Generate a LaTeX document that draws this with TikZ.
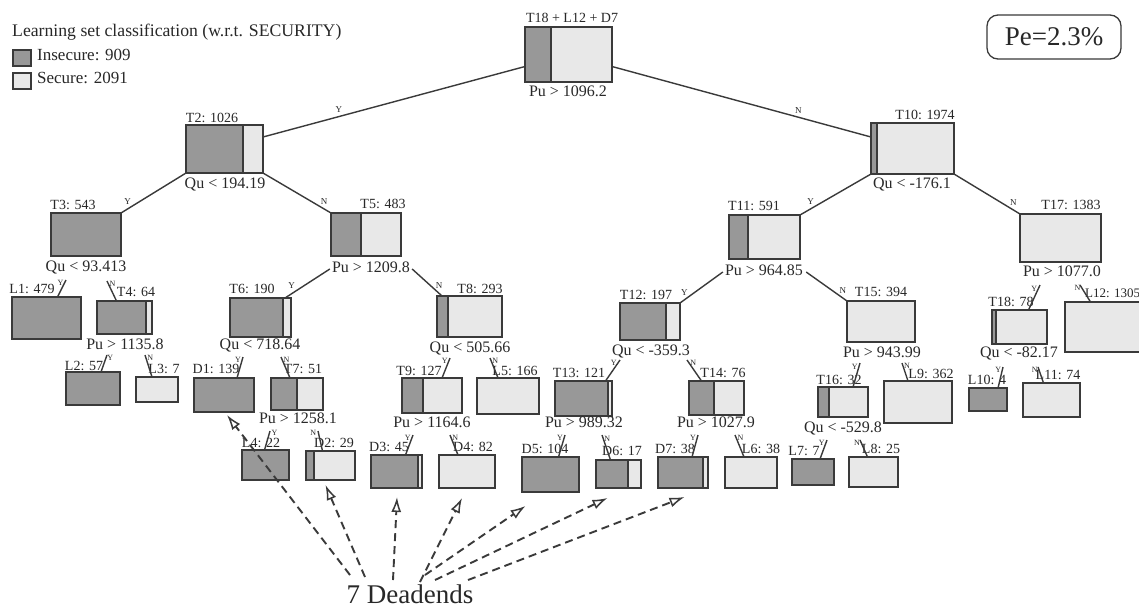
\documentclass[tikz,border=0pt]{standalone}
\usepackage{fontspec}
\setmainfont{Liberation Serif}
\usetikzlibrary{calc,arrows.meta}
\definecolor{dk}{RGB}{152,152,152}
\definecolor{lt}{RGB}{232,232,232}
\definecolor{ln}{RGB}{58,58,58}
\definecolor{tx}{RGB}{40,40,40}
\newcommand{\treebox}[6]{%
  \fill[lt] (#2,#3) rectangle (#4,#5);
  \fill[dk] (#2,#3) rectangle (#6,#5);
  \draw[ln, line width=1.6pt] (#6,#3) -- (#6,#5);
  \node[boxnode, minimum width={(#4-#2)*1pt}, minimum height={(#5-#3)*1pt}] (#1) at ({(#2+#4)/2},{(#3+#5)/2}) {};
}
\begin{document}
\begin{tikzpicture}[x=1pt,y=-1pt,
  boxnode/.style={draw=ln, line width=1.8pt, rectangle, inner sep=0pt, outer sep=0pt},
  nl/.style={font=\fontsize{14}{14}\selectfont, text=tx, inner sep=0pt, text height=0.68em, text depth=0pt},
  cl/.style={font=\fontsize{16}{16}\selectfont, text=tx, inner sep=0pt, text height=0.68em, text depth=0pt},
  yn/.style={font=\fontsize{8}{8}\selectfont, text=tx, inner sep=0.5pt},
  ynb/.style={font=\fontsize{9}{9}\selectfont, text=tx, inner sep=1pt},
  conn/.style={draw=ln, line width=1.4pt},
  dead/.style={draw=ln, line width=1.9pt, dash pattern=on 8pt off 5pt, -{Latex[open, length=15pt, width=10pt, line width=1.5pt]}},
  lg/.style={font=\fontsize{17}{17}\selectfont, text=tx, inner sep=0pt, anchor=west, text height=0.68em, text depth=0pt}]
\useasboundingbox (0,0) rectangle (1139,614);
\fill[white] (0,0) rectangle (1139,614);

% legend
\node[lg, font=\fontsize{17.7}{17.7}\selectfont] (lgt) at (12,33) {Learning set classification (w.r.t. SECURITY)};
\node[boxnode, line width=1.3pt, fill=dk, minimum width=18pt, minimum height=16pt] (lg1) at (22,58) {};
\node[lg] (lg1t) at (37,57) {Insecure: 909};
\node[boxnode, line width=1.3pt, fill=lt, minimum width=18pt, minimum height=16pt] (lg2) at (22,81) {};
\node[lg] (lg2t) at (37,80) {Secure: 2091};

% error box
\node[draw=ln, line width=1.3pt, rounded corners=11pt, minimum width=134pt, minimum height=44pt, inner sep=0pt,
      font=\fontsize{27}{27}\selectfont, text=tx] (pe) at (1054,37) {Pe=2.3\%};

% boxes
\treebox{root}{525}{27}{612}{82}{551}
\treebox{T2}{186}{125}{263}{173}{243}
\treebox{T10}{871}{123}{954}{174}{877}
\treebox{T3}{51}{213}{121}{256}{121}
\treebox{T5}{331}{213}{401}{256}{361}
\treebox{T11}{729}{215}{800}{259}{748}
\treebox{T17}{1020}{214}{1101}{262}{1020}
\treebox{L1}{12}{297}{81}{339}{81}
\treebox{T4}{97}{301}{152}{334}{146}
\treebox{T6}{230}{298}{291}{337}{283}
\treebox{T8}{437}{296}{502}{337}{448}
\treebox{T12}{620}{303}{680}{340}{666}
\treebox{T15}{847}{301}{915}{342}{847}
\treebox{T18}{992}{310}{1047}{344}{996}
\treebox{L12}{1065}{302}{1150}{352}{1065}
\treebox{L2}{66}{372}{120}{405}{120}
\treebox{L3}{136}{377}{178}{402}{136}
\treebox{D1}{194}{378}{254}{412}{254}
\treebox{T7}{271}{378}{323}{410}{297}
\treebox{T9}{402}{378}{462}{413}{423}
\treebox{L5}{477}{378}{539}{414}{477}
\treebox{T13}{555}{381}{612}{416}{608}
\treebox{T14}{689}{381}{744}{415}{714}
\treebox{T16}{818}{387}{868}{417}{829}
\treebox{L9}{884}{381}{952}{423}{884}
\treebox{L10}{969}{388}{1007}{411}{1007}
\treebox{L11}{1023}{383}{1080}{417}{1023}
\treebox{L4}{242}{450}{289}{480}{289}
\treebox{D2}{306}{451}{355}{480}{314}
\treebox{D3}{371}{455}{422}{488}{418}
\treebox{D4}{439}{455}{495}{488}{439}
\treebox{D5}{522}{457}{579}{492}{579}
\treebox{D6}{596}{460}{641}{488}{628}
\treebox{D7}{658}{457}{708}{488}{703}
\treebox{L6}{725}{457}{777}{488}{725}
\treebox{L7}{792}{459}{834}{485}{834}
\treebox{L8}{849}{457}{898}{487}{849}

% node labels
\node[nl] (rootl) at (572,19.5) {T18 + L12 + D7};
\node[nl] (T2l) at (212,119) {T2: 1026};
\node[nl] (T10l) at (925,116) {T10: 1974};
\node[nl] (T3l) at (73,206) {T3: 543};
\node[nl] (T5l) at (383,205) {T5: 483};
\node[nl] (T11l) at (754,207) {T11: 591};
\node[nl] (T17l) at (1071,206) {T17: 1383};
\node[nl] (L1l) at (32,290) {L1: 479};
\node[nl] (T4l) at (136,293) {T4: 64};
\node[nl] (T6l) at (252,290) {T6: 190};
\node[nl] (T8l) at (480,290) {T8: 293};
\node[nl] (T12l) at (646,296) {T12: 197};
\node[nl] (T15l) at (881,293) {T15: 394};
\node[nl] (T18l) at (1011,303) {T18: 78};
\node[nl, anchor=west, font=\fontsize{13}{13}\selectfont] (L12l) at (1085,294) {L12: 1305};
\node[nl] (L2l) at (84,367) {L2: 57};
\node[nl] (L3l) at (164,370) {L3: 7};
\node[nl] (D1l) at (216,370) {D1: 139};
\node[nl] (T7l) at (303,370) {T7: 51};
\node[nl] (T9l) at (419,372) {T9: 127};
\node[nl] (L5l) at (515,372) {L5: 166};
\node[nl] (T13l) at (579,374) {T13: 121};
\node[nl] (T14l) at (723,374) {T14: 76};
\node[nl] (T16l) at (839,381) {T16: 32};
\node[nl] (L9l) at (931,375) {L9: 362};
\node[nl] (L10l) at (987,381) {L10: 4};
\node[nl] (L11l) at (1058,376) {L11: 74};
\node[nl] (L4l) at (261,444) {L4: 22};
\node[nl] (D2l) at (334,444) {D2: 29};
\node[nl] (D3l) at (389,448) {D3: 45};
\node[nl] (D4l) at (473,448) {D4: 82};
\node[nl] (D5l) at (545,450) {D5: 104};
\node[nl] (D6l) at (622,452) {D6: 17};
\node[nl] (D7l) at (675,450) {D7: 38};
\node[nl] (L6l) at (761,450) {L6: 38};
\node[nl] (L7l) at (804,452) {L7: 7};
\node[nl] (L8l) at (881,450) {L8: 25};

% condition labels
\node[cl] (rootc) at (568,93) {Pu > 1096.2};
\node[cl] (T2c) at (225,185) {Qu < 194.19};
\node[cl] (T10c) at (912,185) {Qu < -176.1};
\node[cl] (T3c) at (86,268) {Qu < 93.413};
\node[cl] (T5c) at (371,269) {Pu > 1209.8};
\node[cl] (T11c) at (764,272) {Pu > 964.85};
\node[cl] (T17c) at (1062,273) {Pu > 1077.0};
\node[cl] (T4c) at (125,346) {Pu > 1135.8};
\node[cl] (T6c) at (260,346) {Qu < 718.64};
\node[cl] (T8c) at (470,349) {Qu < 505.66};
\node[cl] (T12c) at (651,352) {Qu < -359.3};
\node[cl] (T15c) at (882,354) {Pu > 943.99};
\node[cl] (T18c) at (1019,354) {Qu < -82.17};
\node[cl] (T7c) at (298,420) {Pu > 1258.1};
\node[cl] (T9c) at (432,424) {Pu > 1164.6};
\node[cl] (T13c) at (584,424) {Pu > 989.32};
\node[cl] (T14c) at (716,424) {Pu > 1027.9};
\node[cl] (T16c) at (843,429) {Qu < -529.8};

% main connectors
\draw[conn] ($(root.west)+(0,12)$) -- ($(T2.east)+(0,-12)$) node[ynb, pos=0.71, above=2pt] {Y};
\draw[conn] ($(root.east)+(0,12)$) -- ($(T10.west)+(0,-11.5)$) node[ynb, pos=0.72, above=2pt] {N};
\draw[conn] (T2.south west) -- (T3.north east) node[ynb, pos=0.9, above=3pt] {Y};
\draw[conn] (T2.south east) -- (T5.north west) node[ynb, pos=0.9, above=3pt] {N};
\draw[conn] (T10.south west) -- (T11.north east) node[ynb, pos=0.85, above=3pt] {Y};
\draw[conn] (T10.south east) -- (T17.north west) node[ynb, pos=0.9, above=3pt] {N};
\draw[conn] ($(T5c.west)+(-2,0)$) -- ($(T6.north east)+(-6,0)$) node[ynb, pos=0.85, above=3pt] {Y};
\draw[conn] ($(T5c.east)+(2,0)$) -- ($(T8.north west)+(5,0)$) node[ynb, pos=0.9, above=3pt] {N};
\draw[conn] ($(T11c.west)+(-2,0)$) -- (T12.north east) node[ynb, pos=0.9, above=3pt] {Y};
\draw[conn] ($(T11c.east)+(3,0)$) -- (T15.north west) node[ynb, pos=0.9, above=3pt] {N};

% short connectors below condition labels
\draw[conn] ($(T3c)+(-20,12)$) -- ($(L1.north)+(11,0)$) node[yn, pos=0.15, left=0pt] {Y};
\draw[conn] ($(T3c)+(21,13)$) -- ($(T4.north)+(-8,0)$) node[yn, pos=0.15, right=0pt] {N};
\draw[conn] ($(T4c)+(-18,9)$) -- ($(L2.north)+(8,0)$) node[yn, pos=0.15, right=0pt] {Y};
\draw[conn] ($(T4c)+(20,9)$) -- ($(L3.north)+(-5,0)$) node[yn, pos=0.15, right=0pt] {N};
\draw[conn] ($(T6c)+(-17,11)$) -- ($(D1.north)+(13,0)$) node[yn, pos=0.15, left=0pt] {Y};
\draw[conn] ($(T6c)+(21,11)$) -- ($(T7.north)+(-7,0)$) node[yn, pos=0.15, right=0pt] {N};
\draw[conn] ($(T7c)+(-28,11)$) -- ($(L4.north)+(-1,0)$) node[yn, pos=0.1, right=1pt] {Y};
\draw[conn] ($(T7c)+(20,11)$) -- ($(D2.north)+(-8,0)$) node[yn, pos=0.1, left=1pt] {N};
\draw[conn] ($(T8c)+(-20,9)$) -- ($(T9.north)+(10,0)$) node[yn, pos=0.15, left=0pt] {Y};
\draw[conn] ($(T8c)+(20,9)$) -- ($(L5.north)+(-10,0)$) node[yn, pos=0.15, right=0pt] {N};
\draw[conn] ($(T9c)+(-19,11)$) -- ($(D3.north)+(9,0)$) node[yn, pos=0.15, left=0pt] {Y};
\draw[conn] ($(T9c)+(18,11)$) -- ($(D4.north)+(-9,0)$) node[yn, pos=0.15, right=0pt] {N};
\draw[conn] ($(T12c)+(-31,8)$) -- ($(T13.north)+(22,0)$) node[yn, pos=0.15, left=0pt] {Y};
\draw[conn] ($(T12c)+(36,8)$) -- ($(T14.north)+(-15,0)$) node[yn, pos=0.15, right=0pt] {N};
\draw[conn] ($(T13c)+(-19,11)$) -- ($(D5.north)+(8,0)$) node[yn, pos=0.15, left=0pt] {Y};
\draw[conn] ($(T13c)+(18,11)$) -- ($(D6.north)+(-8,0)$) node[yn, pos=0.15, right=0pt] {N};
\draw[conn] ($(T14c)+(-18,11)$) -- ($(D7.north)+(9,0)$) node[yn, pos=0.15, left=0pt] {Y};
\draw[conn] ($(T14c)+(19,11)$) -- ($(L6.north)+(-7,0)$) node[yn, pos=0.15, right=0pt] {N};
\draw[conn] ($(T15c)+(-22,9)$) -- ($(T16.north)+(10,0)$) node[yn, pos=0.15, left=0pt] {Y};
\draw[conn] ($(T15c)+(20,9)$) -- ($(L9.north)+(-10,0)$) node[yn, pos=0.15, right=0pt] {N};
\draw[conn] ($(T16c)+(-16,11)$) -- ($(L7.north)+(7,0)$) node[yn, pos=0.15, left=0pt] {Y};
\draw[conn] ($(T16c)+(17,11)$) -- ($(L8.north)+(-6,0)$) node[yn, pos=0.15, left=0pt] {N};
\draw[conn] ($(T17c)+(-22,12)$) -- ($(T18.north)+(9,0)$) node[yn, pos=0.15, left=0pt] {Y};
\draw[conn] ($(T17c)+(18,12)$) -- ($(L12.north)+(-17,0)$) node[yn, pos=0.15, left=0pt] {N};
\draw[conn] ($(T18c)+(-16,13)$) -- ($(L10.north)+(10,0)$) node[yn, pos=0.15, left=0pt] {Y};
\draw[conn] ($(T18c)+(19,13)$) -- ($(L11.north)+(-8,0)$) node[yn, pos=0.15, left=0pt] {N};

% dead ends
\node[font=\fontsize{27}{27}\selectfont, text=tx, inner sep=0pt, text height=0.68em, text depth=0pt] (dead) at (410,600) {7 Deadends};
\coordinate (s1) at (350,575);
\coordinate (s2) at (365,577);
\coordinate (s3) at (393,580);
\coordinate (s4) at (420,582);
\coordinate (s5) at (425,575);
\coordinate (s6) at (435,580);
\coordinate (s7) at (468,580);
\draw[dead] (s1) -- ($(D1.south)+(3,3)$);
\draw[dead] (s2) -- ($(D2.south)+(-5,5)$);
\draw[dead] (s3) -- ($(D3.south)+(0.5,9)$);
\draw[dead] (s4) -- ($(D4.south)+(-5,10)$);
\draw[dead] (s5) -- ($(D5.south)+(-25,14)$);
\draw[dead] (s6) -- ($(D6.south)+(-11,10)$);
\draw[dead] (s7) -- ($(D7.south)+(1.5,9)$);
\end{tikzpicture}
\end{document}
